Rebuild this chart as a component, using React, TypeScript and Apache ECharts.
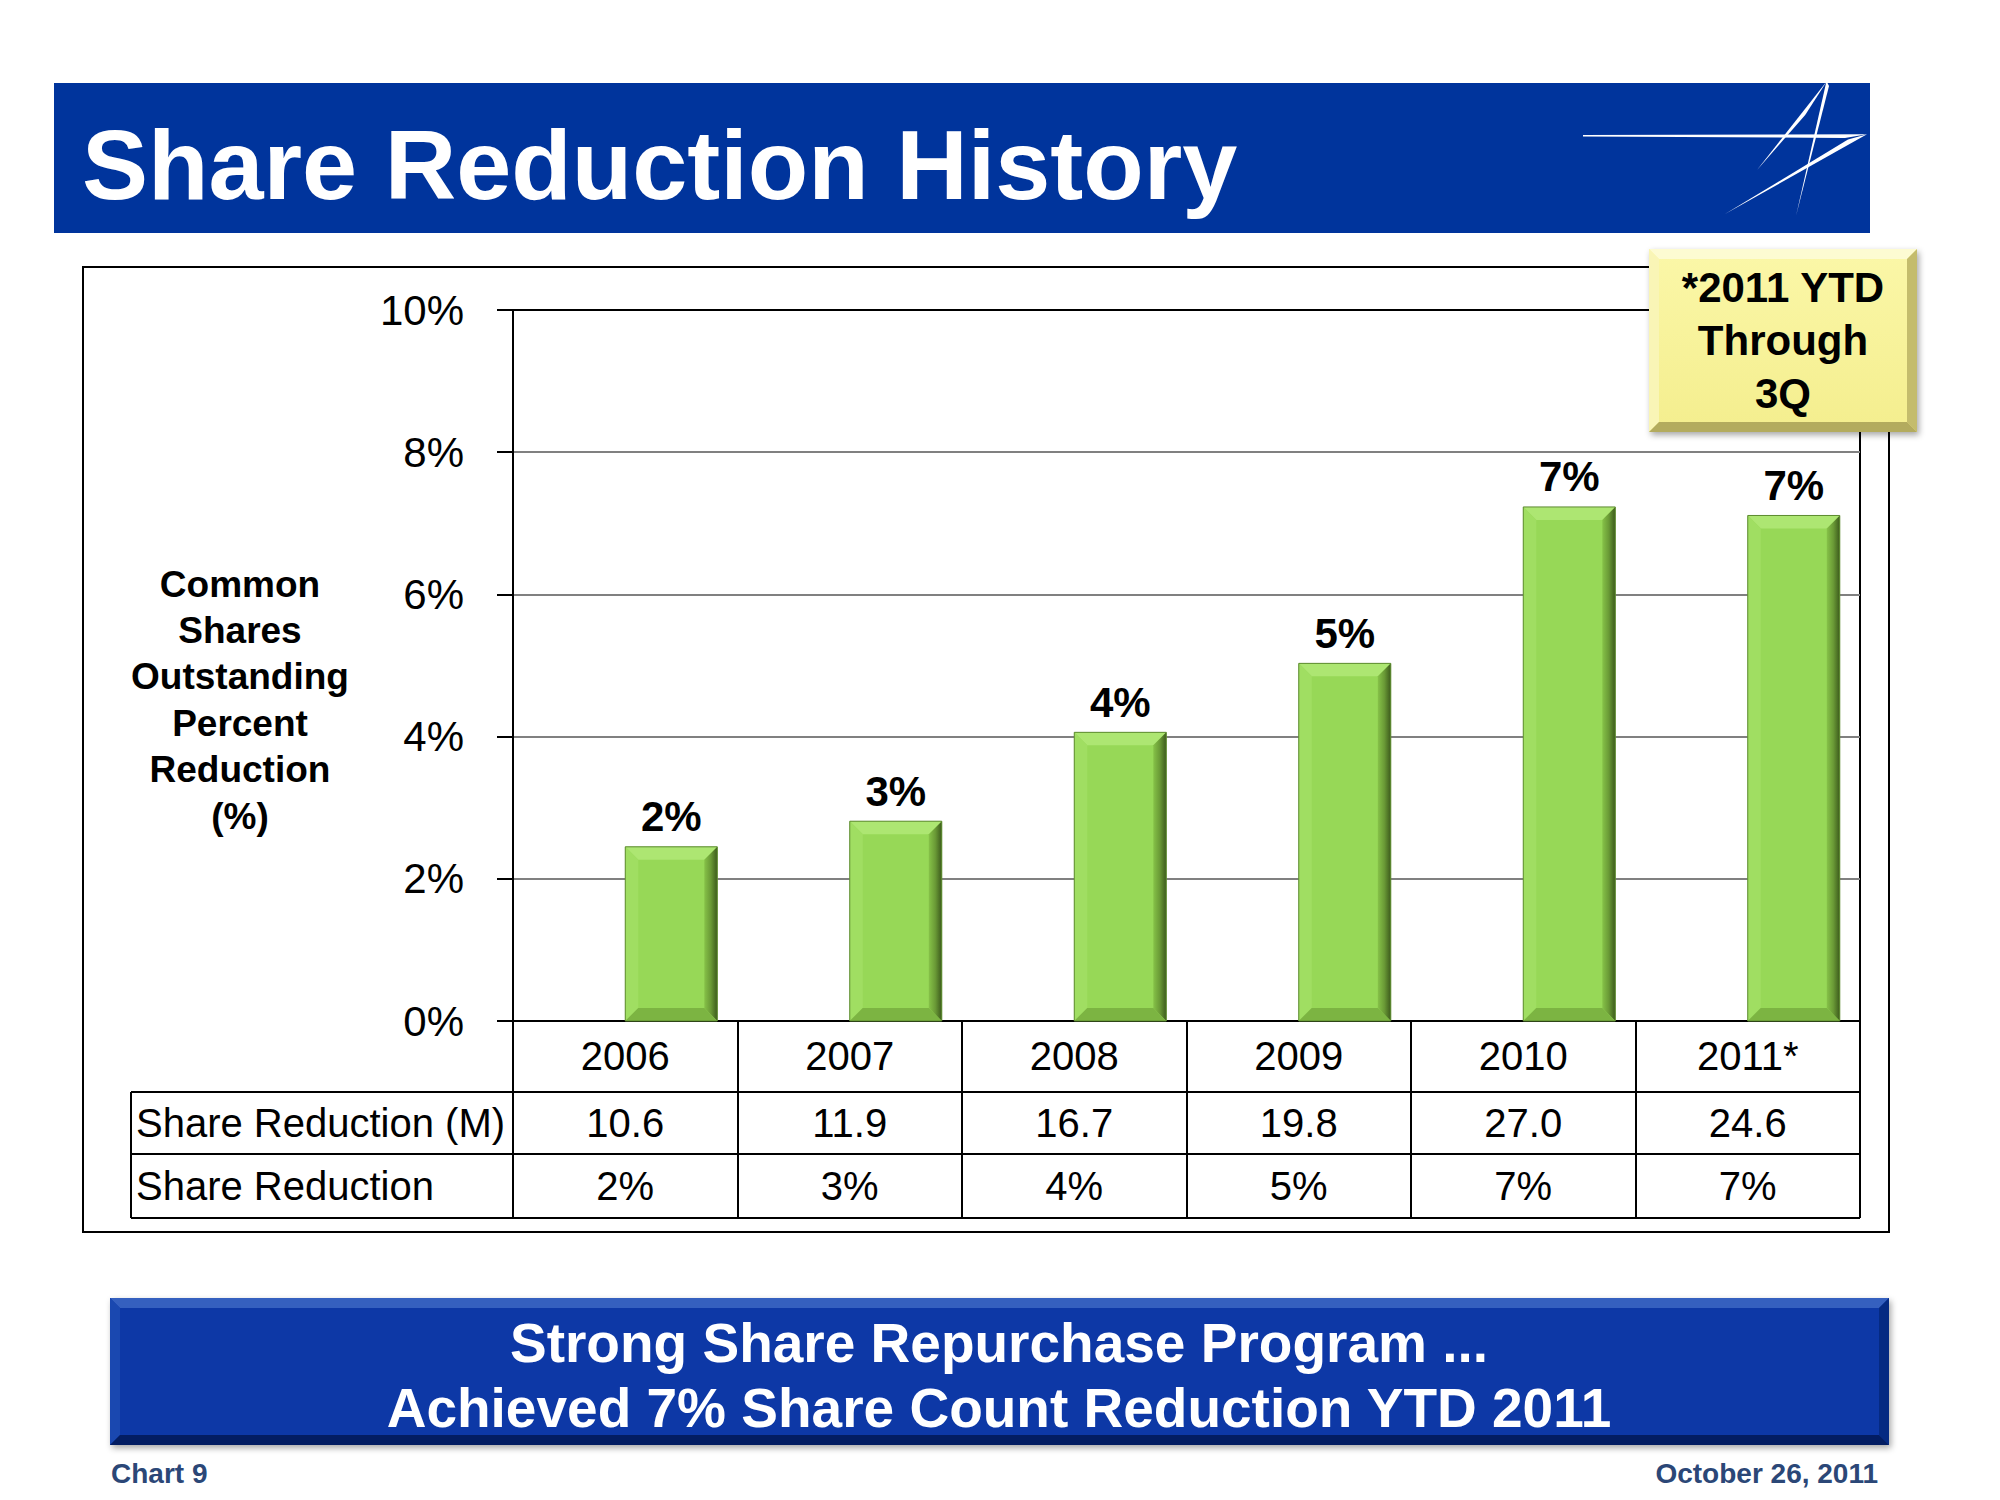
import React, { useEffect, useRef } from 'react';
import * as echarts from 'echarts';

// ---------- data ----------
const years = ['2006', '2007', '2008', '2009', '2010', '2011*'];
const reductionPct = [2.45, 2.81, 4.06, 5.03, 7.23, 7.11];
const barLabels = ['2%', '3%', '4%', '5%', '7%', '7%'];
const shareReductionM = ['10.6', '11.9', '16.7', '19.8', '27.0', '24.6'];
const shareReductionRow = ['2%', '3%', '4%', '5%', '7%', '7%'];
const rowLabels = ['Share Reduction (M)', 'Share Reduction'];
const yMin = 0;
const yMax = 10;
const yInterval = 2;

const titleText = 'Share Reduction History';
const yAxisTitle = 'Common\nShares\nOutstanding\nPercent\nReduction\n(%)';
const noteText = '*2011 YTD\nThrough\n3Q';
const bannerLines = ['Strong Share Repurchase Program ...', 'Achieved 7% Share Count Reduction YTD 2011'];
const footerLeft = 'Chart 9';
const footerRight = 'October 26, 2011';

// ---------- layout ----------
const FONT = '"Liberation Sans", Arial, sans-serif';
const G_LEFT = 513;
const G_TOP = 310;
const G_RIGHT = 1860;
const G_BOTTOM = 1021;
const ROW1 = 1092;
const ROW2 = 1154;
const ROW3 = 1218;
const TABLE_LEFT = 131;

function txt(text: string, x: number, y: number, o: any = {}) {
  const align = o.align || 'left';
  const va = o.va || 'middle';
  return {
    type: 'text',
    z: o.z ?? 20,
    style: {
      text,
      x,
      y,
      fill: o.fill || '#000',
      fontSize: o.size || 40,
      fontWeight: o.weight || 'normal',
      fontFamily: o.family || FONT,
      lineHeight: o.lineHeight,
      align,
      verticalAlign: va,
      textAlign: align,
      textVerticalAlign: va,
    },
  };
}

function line(x1: number, y1: number, x2: number, y2: number, color = '#000', w = 2, z = 5) {
  return { type: 'line', z, shape: { x1, y1, x2, y2 }, style: { stroke: color, lineWidth: w } };
}

function poly(points: number[][], fill: any, z = 10) {
  return { type: 'polygon', z, shape: { points }, style: { fill } };
}

function bevelBox(x: number, y: number, w: number, h: number, b: number, c: any, z: number, shadow = false) {
  const x1 = x + w;
  const y1 = y + h;
  return [
    {
      type: 'rect',
      z,
      shape: { x, y, width: w, height: h },
      style: {
        fill: c.main,
        shadowBlur: shadow ? 6 : 0,
        shadowOffsetX: shadow ? 2 : 0,
        shadowOffsetY: shadow ? 3 : 0,
        shadowColor: 'rgba(0,0,0,0.35)',
      },
    },
    poly([[x, y], [x1, y], [x1 - b, y + b], [x + b, y + b]], c.top, z + 1),
    poly([[x, y], [x + b, y + b], [x + b, y1 - b], [x, y1]], c.left, z + 1),
    poly([[x1, y], [x1, y1], [x1 - b, y1 - b], [x1 - b, y + b]], c.right, z + 1),
    poly([[x, y1], [x + b, y1 - b], [x1 - b, y1 - b], [x1, y1]], c.bottom, z + 1),
  ];
}

function renderBar(params: any, api: any) {
  const idx = api.value(0);
  const val = api.value(1);
  const base = api.coord([idx, 0]);
  const top = api.coord([idx, val]);
  const catW = api.size([1, 0])[0];
  const bw = catW * 0.41;
  const x0 = base[0];
  const x1 = x0 + bw;
  const y0 = top[1];
  const y1 = base[1];
  const b = 13;
  const rightGrad = new echarts.graphic.LinearGradient(0, 0, 1, 0, [
    { offset: 0, color: '#86c248' },
    { offset: 0.5, color: '#6a9a36' },
    { offset: 1, color: '#3c5a1c' },
  ]);
  return {
    type: 'group',
    children: [
      { type: 'rect', shape: { x: x0, y: y0, width: bw, height: y1 - y0 }, style: { fill: '#97d857' } },
      { type: 'polygon', shape: { points: [[x0, y0], [x1, y0], [x1 - b, y0 + b], [x0 + b, y0 + b]] }, style: { fill: '#ade672' } },
      { type: 'polygon', shape: { points: [[x0, y0], [x0 + b, y0 + b], [x0 + b, y1 - b], [x0, y1]] }, style: { fill: '#a0de62' } },
      { type: 'polygon', shape: { points: [[x1, y0], [x1, y1], [x1 - b, y1 - b], [x1 - b, y0 + b]] }, style: { fill: rightGrad } },
      { type: 'polygon', shape: { points: [[x0, y1], [x0 + b, y1 - b], [x1 - b, y1 - b], [x1, y1]] }, style: { fill: '#7cb442' } },
      { type: 'rect', shape: { x: x0, y: y0, width: bw, height: y1 - y0 }, style: { fill: 'none', stroke: '#5d8a30', lineWidth: 1 } },
      {
        type: 'text',
        style: {
          text: barLabels[idx],
          x: (x0 + x1) / 2,
          y: y0 - 9,
          fill: '#000',
          fontSize: 42,
          fontWeight: 'bold',
          fontFamily: FONT,
          align: 'center',
          verticalAlign: 'bottom',
          textAlign: 'center',
          textVerticalAlign: 'bottom',
        },
      },
    ],
  };
}

const App = () => {
  const ref = useRef<HTMLDivElement>(null);

  useEffect(() => {
    const chart = echarts.init(ref.current!, null, { renderer: 'svg' });

    const graphics: any[] = [];

    // title banner
    graphics.push({ type: 'rect', z: 1, shape: { x: 54, y: 83, width: 1816, height: 150 }, style: { fill: '#00349c' } });
    graphics.push(txt(titleText, 82, 164, { size: 99, weight: 'bold', fill: '#ffffff', z: 3 }));
    // logo (star)
    graphics.push(poly([[1583, 135], [1867, 134.3], [1845, 138], [1583, 136.4]], '#ffffff', 3));
    graphics.push(poly([[1867, 134.3], [1725, 214], [1848, 139.5]], '#ffffff', 3));
    graphics.push(poly([[1827, 81], [1757, 170], [1805.2, 115]], '#ffffff', 3));
    graphics.push(poly([[1826.5, 81], [1796, 216], [1829, 86]], '#ffffff', 3));

    // chart outline box
    graphics.push({
      type: 'rect',
      z: 1,
      shape: { x: 83, y: 267, width: 1806, height: 965 },
      style: { fill: 'none', stroke: '#000', lineWidth: 2 },
    });

    // y axis title
    graphics.push(txt(yAxisTitle, 240, 700, { size: 37, weight: 'bold', align: 'center', lineHeight: 46.4 }));

    // table lines
    [ROW1, ROW2, ROW3].forEach((y) => graphics.push(line(TABLE_LEFT, y, G_RIGHT, y)));
    graphics.push(line(TABLE_LEFT, ROW1, TABLE_LEFT, ROW3));
    graphics.push(txt(rowLabels[0], 136, (ROW1 + ROW2) / 2, { size: 40 }));
    graphics.push(txt(rowLabels[1], 136, (ROW2 + ROW3) / 2, { size: 40 }));

    // note box
    graphics.push(
      ...bevelBox(1649, 249, 268, 183, 10, {
        main: new echarts.graphic.LinearGradient(0, 0, 0, 1, [
          { offset: 0, color: '#fbf7a8' },
          { offset: 1, color: '#f4ee8e' },
        ]),
        top: '#fdfbd2',
        left: '#f9f5b6',
        right: '#c4bc6c',
        bottom: '#b3ab5e',
      }, 30, true)
    );
    graphics.push(txt(noteText, 1783, 340, { size: 42, weight: 'bold', align: 'center', lineHeight: 53, z: 40 }));

    // bottom banner
    graphics.push(
      ...bevelBox(110, 1298, 1779, 147, 10, {
        main: '#0738a6',
        top: '#3560bf',
        left: '#1a48b0',
        right: '#052a82',
        bottom: '#031d62',
      }, 30, true)
    );
    graphics.push(txt(bannerLines[0], 999, 1343, { size: 55, weight: 'bold', fill: '#ffffff', align: 'center', z: 40 }));
    graphics.push(txt(bannerLines[1], 999, 1408, { size: 55, weight: 'bold', fill: '#ffffff', align: 'center', z: 40 }));

    // footer
    graphics.push(txt(footerLeft, 111, 1473, { size: 28, weight: 'bold', fill: '#2b4777' }));
    graphics.push(txt(footerRight, 1878, 1473, { size: 28, weight: 'bold', fill: '#2b4777', align: 'right' }));

    const baseAxisLabel = {
      fontSize: 40,
      fontFamily: FONT,
      color: '#000',
      verticalAlign: 'middle',
      interval: 0,
    };

    const option: any = {
      animation: false,
      backgroundColor: '#ffffff',
      grid: {
        left: G_LEFT,
        top: G_TOP,
        width: G_RIGHT - G_LEFT,
        height: G_BOTTOM - G_TOP,
        show: true,
        borderColor: '#000',
        borderWidth: 2,
        backgroundColor: 'transparent',
      },
      xAxis: [
        {
          type: 'category',
          data: years,
          position: 'bottom',
          boundaryGap: true,
          axisLine: { show: true, lineStyle: { color: '#000', width: 2 } },
          axisTick: { show: true, interval: 0, length: ROW3 - G_BOTTOM, lineStyle: { color: '#000', width: 2 } },
          axisLabel: { ...baseAxisLabel, margin: 35 },
          splitLine: { show: false },
        },
        {
          type: 'category',
          data: shareReductionM,
          position: 'bottom',
          axisLine: { show: false },
          axisTick: { show: false },
          axisLabel: { ...baseAxisLabel, margin: (ROW1 + ROW2) / 2 - G_BOTTOM },
          splitLine: { show: false },
        },
        {
          type: 'category',
          data: shareReductionRow,
          position: 'bottom',
          axisLine: { show: false },
          axisTick: { show: false },
          axisLabel: { ...baseAxisLabel, margin: (ROW2 + ROW3) / 2 - G_BOTTOM },
          splitLine: { show: false },
        },
      ],
      yAxis: {
        type: 'value',
        min: yMin,
        max: yMax,
        interval: yInterval,
        axisLine: { show: true, lineStyle: { color: '#000', width: 2 } },
        axisTick: { show: true, length: 16, lineStyle: { color: '#000', width: 2 } },
        axisLabel: { formatter: '{value}%', fontSize: 42, fontFamily: FONT, color: '#000', margin: 49 },
        splitLine: {
          show: true,
          lineStyle: { color: ['#808080', '#808080', '#808080', '#808080', '#808080', '#000'], width: 2 },
        },
      },
      series: [
        {
          type: 'custom',
          xAxisIndex: 0,
          yAxisIndex: 0,
          renderItem: renderBar,
          encode: { x: 0, y: 1 },
          data: reductionPct.map((v, i) => [i, v]),
          z: 5,
        },
      ],
      graphic: { elements: graphics },
    };

    chart.setOption(option);
    return () => chart.dispose();
  }, []);

  return (
    <div
      ref={ref}
      style={{ position: 'fixed', left: 0, top: 0, width: 2000, height: 1500, background: '#ffffff' }}
    />
  );
};

export default App;
